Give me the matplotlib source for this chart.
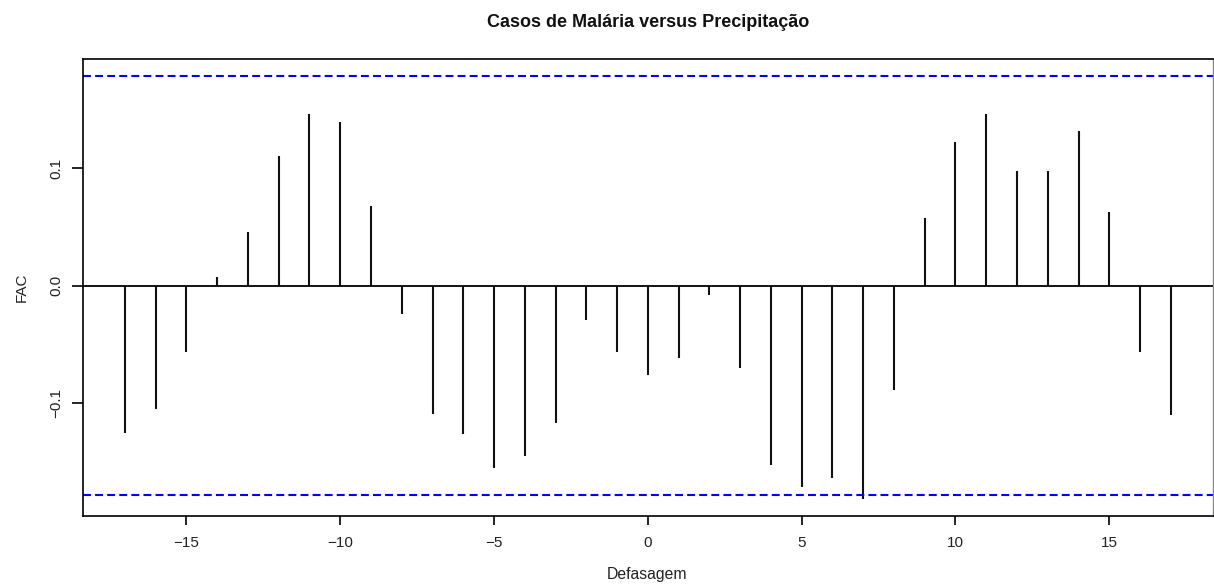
import matplotlib
matplotlib.use("Agg")
import matplotlib.pyplot as plt
import numpy as np

plt.rcParams['font.family'] = ['Liberation Sans', 'DejaVu Sans']

lags = list(range(-17, 18))
fac = [-0.125, -0.105, -0.056, 0.0072, 0.0458, 0.1105, 0.146, 0.1394, 0.0679,
       -0.0243, -0.109, -0.1264, -0.1553, -0.1449, -0.117, -0.0296, -0.056,
       -0.0759, -0.0614, -0.0081, -0.0696, -0.1528, -0.1709, -0.1633, -0.1817,
       -0.0889, 0.0574, 0.1224, 0.1462, 0.0972, 0.0972, 0.1317, 0.0628,
       -0.056, -0.1102]
conf_limit = 0.178
xticks = [-15, -10, -5, 0, 5, 10, 15]
yticks = [-0.1, 0.0, 0.1]
ytick_labels = ["-0.1", "0.0", "0.1"]
title = "Casos de Malária versus Precipitação"
xlabel = "Defasagem"
ylabel = "FAC"

fig = plt.figure(figsize=(12.14, 5.86), dpi=100)
ax = fig.add_axes([0.0684, 0.1189, 0.9305, 0.7799])

ax.vlines(lags, 0, fac, colors='#111111', linewidth=1.5)
ax.axhline(0, color='black', linewidth=1.3)
for c in (conf_limit, -conf_limit):
    ax.axhline(c, color='#0000ff', linewidth=1.5, linestyle=(0, (3.8, 2.0)))

lo = min(min(fac), -conf_limit)
hi = max(max(fac), conf_limit)
pad = 0.04 * (hi - lo)
ax.set_ylim(lo - pad, hi + pad)
xpad = 0.04 * (max(lags) - min(lags))
ax.set_xlim(min(lags) - xpad, max(lags) + xpad)

ax.set_xticks(xticks)
ax.set_xticklabels([str(t).replace('-', '\u2212') for t in xticks], fontsize=11, color='#222222')
ax.set_yticks(yticks)
ax.set_yticklabels([s.replace('-', '\u2212') for s in ytick_labels], fontsize=11,
                   rotation=90, va='center', color='#222222')
ax.tick_params(axis='x', length=6.3, width=1.2, pad=8)
ax.tick_params(axis='y', length=8, width=1.2, pad=6)
for s in ax.spines.values():
    s.set_linewidth(1.2)
ax.spines['right'].set_color('#888888')
ax.spines['right'].set_linewidth(1.0)

fig.text(0.534, 0.962, title, ha='center', va='center', fontsize=13, fontweight='bold', color='#111111')
fig.text(0.533, 0.019, xlabel, ha='center', va='center', fontsize=11.3, color='#222222')
fig.text(0.018, 0.51, ylabel, ha='center', va='center', fontsize=11, rotation=90, color='#222222')

fig.savefig("out.png", dpi=100)
